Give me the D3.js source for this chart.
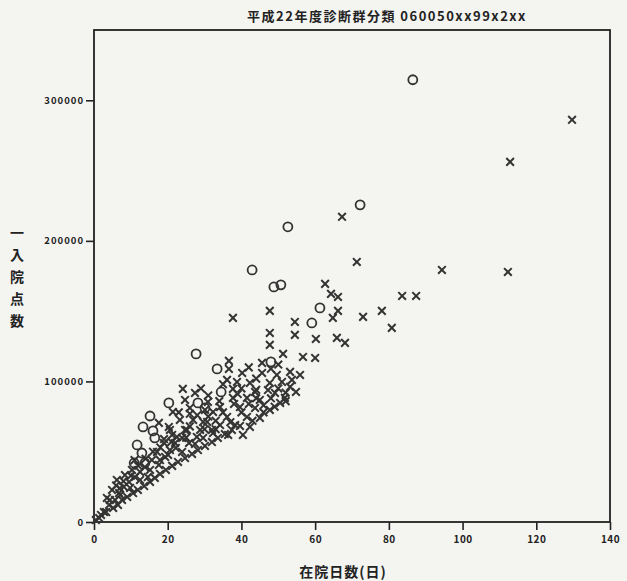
<!DOCTYPE html>
<html>
<head>
<meta charset="utf-8">
<script src="https://cdn.jsdelivr.net/npm/d3@7"></script>
<style>
  body { margin: 0; background: #f4f4f1; }
  svg { display: block; }
  text { font-family: "Noto Sans CJK JP", "DejaVu Sans", sans-serif; font-weight: bold; fill: #222; }
</style>
</head>
<body>
<svg id="chart" width="627" height="581"></svg>
<script>
// title and axis labels
const title = "平成22年度診断群分類 060050xx99x2xx";
const xTitle = "在院日数(日)";
const yTitle = ["一", "入", "院", "点", "数"];

const xTicks = [0, 20, 40, 60, 80, 100, 120, 140];
const yTicks = [0, 100000, 200000, 300000];

// open circles : [在院日数, 点数]
const circlePts = [
  [86.5, 314600], [72.2, 225600], [52.6, 210000], [42.9, 179300],
  [48.8, 167200], [50.7, 168700], [61.3, 152300], [59.1, 141600],
  [27.7, 119600], [33.4, 108900], [34.5, 92500], [48.0, 113900],
  [20.3, 84700], [15.2, 75400], [13.3, 67600], [16.0, 64800],
  [11.7, 54800], [13.0, 49100], [10.9, 42000], [13.8, 42000],
  [28.2, 84700], [30.1, 81100], [16.5, 59800]
];

// crosses, sparse part
const crossSparse = [
  [129.7, 286100], [112.9, 256200], [67.3, 217100], [71.3, 185000],
  [94.4, 179300], [112.3, 177900], [83.6, 160800], [87.4, 160800],
  [78.1, 150200], [73.0, 145900], [80.8, 138100], [47.7, 150200],
  [62.7, 169400], [64.3, 162300], [66.2, 160100], [66.2, 150200],
  [64.8, 145200], [54.5, 142300], [54.5, 133100], [47.7, 134500],
  [47.7, 126000], [60.2, 130200], [65.9, 131000], [68.1, 127400],
  [51.3, 119600], [56.7, 117400], [60.0, 116700], [37.7, 145200]
];

// crosses, dense cluster
const crossDense = [
  [36.6, 114600], [36.6, 108900], [40.2, 106000], [45.6, 113200],
  [45.6, 106000], [53.2, 106800], [49.6, 104600], [36.1, 101100],
  [38.8, 99600], [42.3, 98900], [47.7, 98900], [51.0, 99600],
  [53.7, 101100], [37.7, 94700], [43.7, 92500], [47.2, 93900],
  [49.1, 91800], [50.5, 84700], [45.0, 86800], [41.5, 88300],
  [37.7, 88300], [34.2, 81800], [39.6, 81800], [43.7, 81100],
  [47.7, 79700], [32.3, 78300], [36.1, 74700], [41.5, 74700],
  [45.0, 74000], [30.1, 79700], [30.7, 71200], [34.2, 69000],
  [38.3, 69000], [42.3, 67600], [32.3, 63300], [36.4, 61900],
  [40.4, 61900], [24.1, 94700], [27.4, 91800], [24.7, 86800],
  [21.4, 78300], [26.0, 81100], [30.9, 85400], [23.3, 72600],
  [26.9, 72600], [29.6, 71200], [20.6, 65500], [25.2, 65500],
  [28.8, 65500], [32.0, 65500], [22.5, 60500], [27.9, 60500],
  [1.4, 2800], [2.7, 7100], [4.1, 12100], [3.5, 17100],
  [5.7, 15700], [6.8, 20600], [4.9, 22800], [8.1, 24900],
  [9.5, 28500], [6.2, 29900], [11.1, 32000], [8.4, 33400],
  [12.5, 35600], [10.3, 37000], [13.8, 39100], [15.7, 44100],
  [17.6, 40600], [19.3, 46300], [17.1, 49800], [20.6, 51200],
  [19.0, 56200], [22.0, 56200], [23.9, 49800], [23.9, 59800],
  [21.2, 61900], [25.8, 56200], [24.7, 65500], [20.3, 67600],
  [17.6, 70500], [0.5, 1400], [1.9, 5000], [3.3, 7100],
  [5.2, 10000], [6.5, 12100], [7.6, 15700], [9.0, 17800],
  [10.6, 20600], [11.9, 22800], [13.6, 25600], [15.2, 28500],
  [14.6, 32000], [16.5, 31300], [17.9, 34200], [19.5, 37000],
  [21.2, 39900], [22.8, 42700], [24.7, 45500], [26.6, 48400],
  [28.2, 51200], [30.1, 54100], [32.0, 56900], [33.6, 59800],
  [35.5, 62600], [37.4, 65500], [39.6, 68300], [27.4, 55500],
  [29.6, 59800], [17.9, 44100], [20.1, 47700], [22.2, 52700],
  [15.2, 37000], [12.5, 29900], [9.8, 24200], [7.1, 19200],
  [4.3, 15700], [51.8, 88300], [54.8, 92500], [53.2, 96100],
  [55.9, 104600],
  [26, 68000], [28, 76000], [31, 75000], [33, 72000],
  [35, 78000], [38, 84000], [40, 78000], [42, 84000],
  [44, 88000], [46, 83000], [48, 88000], [50, 95000],
  [52, 92000], [40, 95000], [44, 102000], [39, 91000],
  [34, 86000], [31, 90000], [29, 95000], [35, 98000],
  [42, 110000], [48, 109000], [50, 112000], [23, 78000],
  [19, 59000], [21, 57000], [18, 53000], [16, 50000],
  [14, 45000], [12, 40000], [11, 44000], [10, 33000],
  [8, 29000], [7, 24000], [6, 26000], [25, 60000],
  [33, 66000], [37, 71000], [43, 72000], [46, 78000],
  [49, 82000], [52, 86000], [44, 94000], [26, 77000],
  [30, 66000]
];

const crossPts = crossSparse.concat(crossDense);

const svg = d3.select("#chart");
const margin = { left: 94, right: 17, top: 30, bottom: 59 };
const W = 627, H = 581;

const x = d3.scaleLinear().domain([0, 140]).range([margin.left, W - margin.right]);
const y = d3.scaleLinear().domain([0, 350000]).range([H - margin.bottom, margin.top]);

// frame
svg.append("rect")
  .attr("x", x(0)).attr("y", y(350000))
  .attr("width", x(140) - x(0)).attr("height", y(0) - y(350000))
  .attr("fill", "none").attr("stroke", "#222").attr("stroke-width", 1.8);

// x axis
const xAxis = svg.append("g")
  .attr("transform", `translate(0,${y(0)})`)
  .call(d3.axisBottom(x).tickValues(xTicks).tickSize(8).tickPadding(6).tickFormat(d3.format("d")));
xAxis.select(".domain").remove();
xAxis.selectAll("line").attr("stroke", "#222").attr("stroke-width", 1.6);
xAxis.selectAll("text").attr("font-size", 10).attr("letter-spacing", 0.5).attr("fill", "#222");

// y axis
const yAxis = svg.append("g")
  .attr("transform", `translate(${x(0)},0)`)
  .call(d3.axisLeft(y).tickValues(yTicks).tickSize(8).tickPadding(2).tickFormat(d3.format("d")));
yAxis.select(".domain").remove();
yAxis.selectAll("line").attr("stroke", "#222").attr("stroke-width", 1.6);
yAxis.selectAll("text").attr("font-size", 9.5).attr("letter-spacing", 1).attr("fill", "#222");

// crosses
svg.append("g").selectAll("path")
  .data(crossPts)
  .join("path")
  .attr("transform", d => `translate(${x(d[0])},${y(d[1])})`)
  .attr("d", d3.symbol().type(d3.symbolTimes).size(40))
  .attr("fill", "none")
  .attr("stroke", "#333")
  .attr("stroke-width", 2);

// circles
svg.append("g").selectAll("circle")
  .data(circlePts)
  .join("circle")
  .attr("cx", d => x(d[0]))
  .attr("cy", d => y(d[1]))
  .attr("r", 4.5)
  .attr("fill", "none")
  .attr("stroke", "#333")
  .attr("stroke-width", 1.8);

// title
svg.append("text")
  .attr("x", 387).attr("y", 21)
  .attr("text-anchor", "middle")
  .attr("font-size", 13)
  .attr("letter-spacing", 1.5)
  .text(title);

// x title
svg.append("text")
  .attr("x", 343).attr("y", 577)
  .attr("text-anchor", "middle")
  .attr("font-size", 14)
  .attr("letter-spacing", 1)
  .text(xTitle);

// y title, stacked
svg.append("g").selectAll("text")
  .data(yTitle)
  .join("text")
  .attr("x", 17)
  .attr("y", (d, i) => 238 + i * 22)
  .attr("text-anchor", "middle")
  .attr("font-size", 14)
  .text(d => d);
</script>
</body>
</html>
